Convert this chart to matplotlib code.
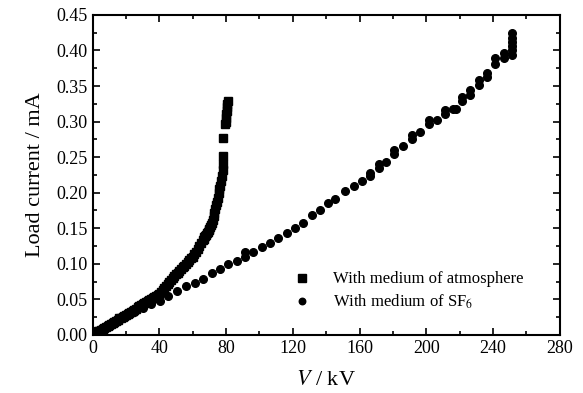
import matplotlib
matplotlib.use("Agg")
import matplotlib.pyplot as plt
from matplotlib.ticker import MultipleLocator

plt.rcParams["font.family"] = ["Liberation Serif", "DejaVu Serif"]
plt.rcParams["mathtext.fontset"] = "stix"

# Load current vs voltage, medium of atmosphere (dense readings)
atm_v = [0, 1, 2, 3, 4, 5, 6, 7, 8, 9, 10, 11, 12, 13, 14, 15, 16, 17, 18,
         19, 20, 21, 22, 23, 24, 25, 26, 27, 28, 29, 30, 31, 32, 33, 34, 35,
         36, 37, 38, 39, 40, 41, 42, 43, 44, 45, 46, 47, 48, 49, 50, 51, 52,
         53, 54, 55, 56, 57, 58, 59, 60, 61, 62, 63, 64, 65, 66, 66.5, 67,
         67.5, 68, 68.5, 69, 69.5, 70, 70.5, 71, 71.5, 72, 72.5, 73, 73.5,
         74, 74.5, 75, 75.5, 76, 76.5, 77, 77.5, 78, 78.3, 78.4, 78.4, 79.6,
         79.8, 80, 80.2, 80.4, 80.6, 80.8, 81]
atm_i = [0.002, 0.003, 0.004, 0.005, 0.006, 0.007, 0.008, 0.0095, 0.011,
         0.0125, 0.014, 0.0155, 0.017, 0.0185, 0.020, 0.0215, 0.023, 0.024,
         0.025, 0.0265, 0.028, 0.0295, 0.031, 0.0325, 0.034, 0.0355, 0.037,
         0.0385, 0.040, 0.0415, 0.043, 0.0445, 0.046, 0.0475, 0.049, 0.0505,
         0.052, 0.0535, 0.055, 0.0565, 0.058, 0.0605, 0.063, 0.066, 0.069,
         0.072, 0.075, 0.0775, 0.080, 0.0825, 0.085, 0.0875, 0.090, 0.0925,
         0.095, 0.0975, 0.100, 0.1025, 0.105, 0.1075, 0.110, 0.1135, 0.117,
         0.121, 0.125, 0.129, 0.133, 0.135, 0.137, 0.139, 0.141, 0.143,
         0.145, 0.147, 0.149, 0.152, 0.155, 0.158, 0.162, 0.167, 0.172,
         0.177, 0.182, 0.187, 0.193, 0.199, 0.205, 0.210, 0.216, 0.224,
         0.232, 0.240, 0.252, 0.277, 0.296, 0.300, 0.305, 0.310, 0.315,
         0.320, 0.325, 0.329]

# Load current vs voltage, medium of SF6
sf6_v = [0, 5, 10, 15, 20, 25, 30, 35, 40.4, 45.4, 50.4, 56, 61.4, 66.4,
         71.4, 76.4, 81.4, 86.4, 91.4, 91.4, 96.4, 101.4, 106.4, 111.4,
         116.4, 121.4, 126, 131.4, 136, 141, 145, 151, 156.4, 161.4, 166,
         166, 171.4, 171.4, 176, 180.8, 180.8, 186, 191.4, 191.4, 196.4,
         201.4, 201.4, 206.4, 211.4, 211.4, 216, 218, 221.4, 221.4, 226.4,
         226.4, 231.4, 231.4, 236.4, 236.4, 241.4, 241.4, 246.4, 246.4,
         251.5, 251.5, 251.5, 251.5, 251.5, 251.5]
sf6_i = [0.002, 0.007, 0.013, 0.019, 0.026, 0.032, 0.038, 0.043, 0.047,
         0.054, 0.062, 0.069, 0.073, 0.079, 0.087, 0.093, 0.099, 0.104,
         0.110, 0.116, 0.117, 0.123, 0.129, 0.136, 0.143, 0.150, 0.157,
         0.168, 0.175, 0.185, 0.191, 0.202, 0.209, 0.217, 0.223, 0.228,
         0.235, 0.240, 0.243, 0.255, 0.260, 0.265, 0.276, 0.281, 0.285,
         0.297, 0.302, 0.302, 0.311, 0.316, 0.318, 0.318, 0.329, 0.334,
         0.338, 0.345, 0.352, 0.359, 0.362, 0.368, 0.381, 0.389, 0.390,
         0.397, 0.394, 0.400, 0.406, 0.412, 0.418, 0.424]

fig = plt.figure(figsize=(5.83, 3.93), dpi=100)
ax = fig.add_axes([0.159, 0.148, 0.801, 0.814])

ax.plot(atm_v, atm_i, "s", color="black", markersize=6,
        label="With medium of atmosphere")
ax.plot(sf6_v, sf6_i, "o", color="black", markersize=5.5,
        label="With medium of SF$_6$")

ax.set_xlim(0, 280)
ax.set_ylim(0, 0.45)
ax.xaxis.set_major_locator(MultipleLocator(40))
ax.xaxis.set_minor_locator(MultipleLocator(20))
ax.yaxis.set_major_locator(MultipleLocator(0.05))
ax.yaxis.set_minor_locator(MultipleLocator(0.025))
ax.yaxis.set_major_formatter(plt.FormatStrFormatter("%.2f"))

ax.tick_params(which="both", direction="in", top=True, right=True,
               labelsize=13, width=1.2)
ax.tick_params(which="major", length=5)
ax.tick_params(which="minor", length=3)
for s in ax.spines.values():
    s.set_linewidth(1.5)

ax.set_xlabel("$V$ / kV", fontsize=16, labelpad=10)
ax.set_ylabel("Load current / mA", fontsize=16, labelpad=8)

ax.legend(loc="lower left", bbox_to_anchor=(0.38, 0.028), frameon=False,
          fontsize=12, handletextpad=0.9, labelspacing=0.3,
          markerscale=0.85)

fig.savefig("out.png", dpi=100)
